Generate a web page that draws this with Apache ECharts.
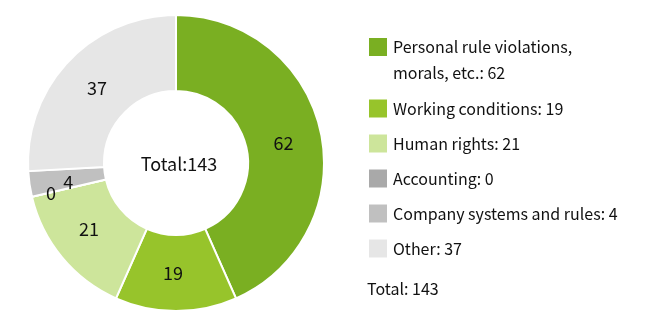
<!DOCTYPE html>
<html>
<head>
<meta charset="utf-8">
<script src="https://cdn.jsdelivr.net/npm/echarts@6/dist/echarts.min.js"></script>
<style>html,body{margin:0;padding:0;background:#fff;}#c{width:660px;height:330px;}</style>
</head>
<body>
<div id="c"></div>
<script>
const categories = ["Personal rule violations, morals, etc.", "Working conditions", "Human rights", "Accounting", "Company systems and rules", "Other"];
const legendLabels = ["Personal rule violations,\nmorals, etc.", "Working conditions", "Human rights", "Accounting", "Company systems and rules", "Other"];
const values = [62, 19, 21, 0, 4, 37];
const colors = ["#7aaf22", "#97c42b", "#cde59b", "#a9a9a9", "#c0c0c0", "#e6e6e6"];
const total = values.reduce((a, b) => a + b, 0);

const FONT = '"Noto Sans CJK JP", "Noto Sans", sans-serif';
const labelOffsets = [[-3,4],[-3,-3],[0,-6],[-15,4],[4,3],[3,3]];

const chart = echarts.init(document.getElementById('c'), null, {renderer: 'canvas'});
chart.setOption({
  animation: false,
  color: colors,
  title: [
    {text: 'Total:' + total, left: 174, top: 159, textAlign: 'center', textVerticalAlign: 'middle',
     textStyle: {fontFamily: FONT, fontSize: 18, fontWeight: 'normal', color: '#111'}},
    {text: 'Total: ' + total, left: 362, top: 276,
     textStyle: {fontFamily: FONT, fontSize: 16, fontWeight: 'normal', color: '#111'}}
  ],
  legend: {
    orient: 'vertical', left: 362, top: 3,
    itemWidth: 20, itemHeight: 20, itemGap: 10, icon: 'rect',
    data: categories.map((n, i) => i === 0
      ? {name: n, textStyle: {lineHeight: 26}}
      : {name: n}),
    formatter: function (name) {
      const i = categories.indexOf(name);
      return (i === 0 ? '\n' : '') + legendLabels[i] + ': ' + values[i];
    },
    textStyle: {fontFamily: FONT, fontSize: 16, lineHeight: 25, color: '#111'}
  },
  series: [{
    type: 'pie',
    center: [176, 163],
    radius: [72, 148],
    startAngle: 90,
    clockwise: true,
    avoidLabelOverlap: false,
    itemStyle: {borderColor: '#fff', borderWidth: 2},
    label: {position: 'inside', formatter: '{c}', fontFamily: FONT, fontSize: 18, color: '#111'},
    labelLine: {show: false},
    emphasis: {disabled: true},
    data: categories.map((n, i) => ({name: n, value: values[i],
      label: {offset: labelOffsets[i]}}))
  }]
});
</script>
</body>
</html>
